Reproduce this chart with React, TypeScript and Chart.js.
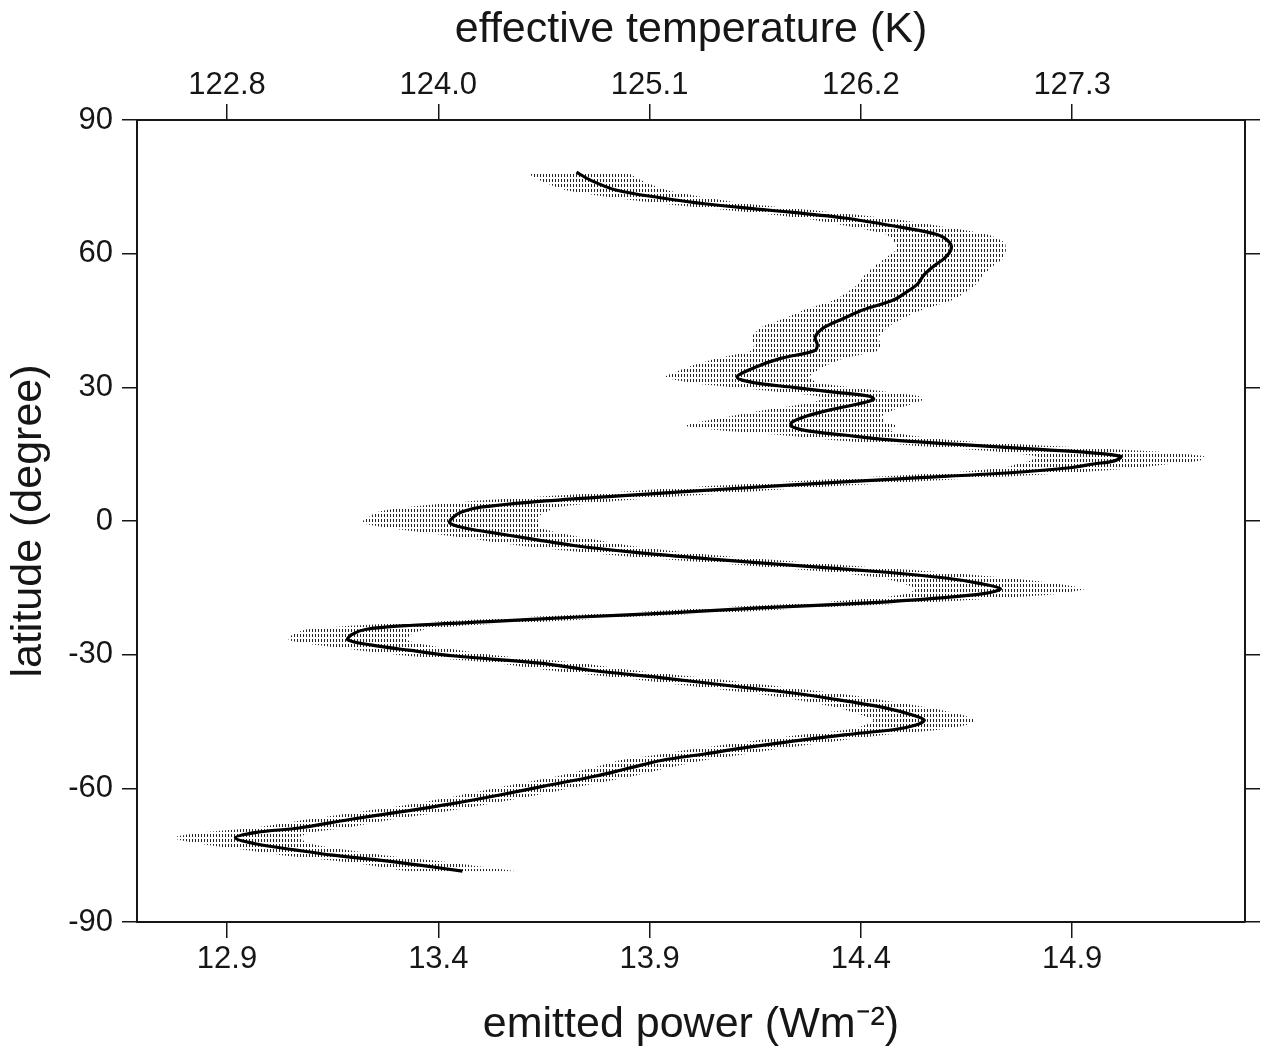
import React, { useEffect, useRef } from "react";
import { Chart, registerables } from "chart.js";

Chart.register(...registerables);

// latitude (degree) of each sample, north to south
const latitudes = [
  78.3, 76.5, 74.3, 72.5, 71.2, 69.8, 68.0, 66.0, 64.3, 62.5,
  60.8, 59.0, 57.3, 55.3, 53.3, 51.5, 49.6, 47.4, 45.5, 43.5,
  41.3, 39.5, 38.2, 36.5, 34.5, 32.3, 31.0, 30.0, 29.0, 28.0,
  27.3, 26.2, 25.0, 23.5, 22.2, 21.3, 20.3, 19.3, 18.2, 17.2,
  16.3, 15.5, 14.5, 13.5, 12.8, 12.0, 11.0, 9.5, 8.0, 6.8,
  5.6, 4.4, 3.1, 2.0, 0.8, -0.4, -1.5, -2.5, -4.0, -5.5,
  -7.0, -8.5, -10.0, -11.5, -12.8, -14.0, -15.2, -16.3, -17.3, -18.3,
  -19.5, -20.6, -21.6, -22.6, -23.4, -24.3, -25.5, -26.7, -27.8, -29.0,
  -30.3, -31.9, -33.5, -35.2, -37.2, -39.0, -40.5, -42.0, -43.5, -44.7,
  -45.8, -46.8, -48.0, -49.3, -50.8, -52.3, -53.7, -55.5, -57.3, -59.5,
  -61.5, -63.5, -65.3, -67.0, -68.9, -69.9, -71.1, -72.5, -73.8, -75.0,
  -76.1, -77.3, -78.6,
];

// emitted power (W m^-2)
const power = [
  13.727, 13.76, 13.82, 13.93, 14.03, 14.18, 14.36, 14.49, 14.58, 14.61,
  14.613, 14.598, 14.574, 14.55, 14.535, 14.51, 14.477, 14.406, 14.36, 14.314,
  14.292, 14.297, 14.29, 14.21, 14.15, 14.107, 14.15, 14.24, 14.33, 14.42,
  14.43, 14.39, 14.33, 14.27, 14.237, 14.235, 14.27, 14.36, 14.47, 14.63,
  14.78, 14.92, 15.015, 15.0, 14.95, 14.9, 14.78, 14.5, 14.22, 14.02,
  13.82, 13.64, 13.5, 13.455, 13.435, 13.427, 13.46, 13.52, 13.62, 13.72,
  13.86, 14.04, 14.25, 14.46, 14.6, 14.68, 14.73, 14.69, 14.58, 14.43,
  14.16, 13.95, 13.72, 13.52, 13.34, 13.23, 13.195, 13.186, 13.24, 13.33,
  13.44, 13.64, 13.76, 13.93, 14.11, 14.27, 14.37, 14.46, 14.52, 14.55,
  14.53, 14.48, 14.36, 14.25, 14.13, 14.03, 13.93, 13.85, 13.77, 13.65,
  13.545, 13.43, 13.31, 13.19, 13.07, 12.97, 12.92, 12.97, 13.06, 13.15,
  13.26, 13.36, 13.457,
];

// half-width of the shaded uncertainty band (W m^-2)
const powerErr = [
  0.12, 0.12, 0.12, 0.11, 0.10, 0.10, 0.10, 0.11, 0.12, 0.13,
  0.13, 0.14, 0.14, 0.14, 0.14, 0.14, 0.14, 0.14, 0.14, 0.15,
  0.15, 0.15, 0.15, 0.15, 0.16, 0.17, 0.15, 0.14, 0.13, 0.12,
  0.12, 0.13, 0.15, 0.18, 0.22, 0.25, 0.20, 0.15, 0.14, 0.15,
  0.17, 0.19, 0.20, 0.20, 0.18, 0.16, 0.15, 0.15, 0.15, 0.15,
  0.16, 0.17, 0.18, 0.20, 0.20, 0.21, 0.18, 0.16, 0.14, 0.13,
  0.12, 0.12, 0.12, 0.13, 0.15, 0.18, 0.20, 0.18, 0.15, 0.13,
  0.12, 0.12, 0.12, 0.13, 0.13, 0.14, 0.14, 0.14, 0.13, 0.12,
  0.11, 0.10, 0.10, 0.10, 0.10, 0.10, 0.10, 0.11, 0.12, 0.12,
  0.12, 0.11, 0.10, 0.10, 0.10, 0.10, 0.10, 0.09, 0.09, 0.09,
  0.09, 0.09, 0.10, 0.10, 0.11, 0.13, 0.15, 0.13, 0.12, 0.12,
  0.12, 0.12, 0.13,
];

const powerTicks = [12.9, 13.4, 13.9, 14.4, 14.9];
const powerTickLabels = ["12.9", "13.4", "13.9", "14.4", "14.9"];
const temperatureTickLabels = ["122.8", "124.0", "125.1", "126.2", "127.3"];
const latitudeTicks = [-90, -60, -30, 0, 30, 60, 90];

const POWER_MIN = 12.687;
const POWER_MAX = 15.309;

const FONT = "'Liberation Sans', Arial, Helvetica, sans-serif";
const INK = "#161616";

export default function App() {
  const canvasRef = useRef<HTMLCanvasElement | null>(null);

  useEffect(() => {
    const canvas = canvasRef.current;
    if (!canvas) return;
    const ctx = canvas.getContext("2d");
    if (!ctx) return;

    // stippled texture for the uncertainty band
    const pc = document.createElement("canvas");
    pc.width = 3;
    pc.height = 5;
    const pctx = pc.getContext("2d")!;
    pctx.fillStyle = "rgba(10,10,10,0.9)";
    pctx.fillRect(1, 1, 1, 3);
    const pattern = ctx.createPattern(pc, "repeat")!;

    const mainData = latitudes.map((lat, i) => ({ x: power[i], y: lat }));
    const leftData = latitudes.map((lat, i) => ({ x: power[i] - powerErr[i], y: lat }));
    const rightData = latitudes.map((lat, i) => ({ x: power[i] + powerErr[i], y: lat }));

    const tickFont = { family: FONT, size: 31, lineHeight: 1 };
    const titleFont = { family: FONT, size: 43, lineHeight: 1 };
    const grid = {
      display: true,
      drawOnChartArea: false,
      drawTicks: true,
      tickLength: 16,
      color: INK,
      lineWidth: 1.5,
    };
    const border = { display: true, color: INK, width: 2 };

    const chart = new Chart(ctx, {
      type: "line",
      data: {
        datasets: [
          {
            label: "emitted power",
            data: mainData,
            borderColor: "#000",
            borderWidth: 3.2,
            pointRadius: 0,
            tension: 0.35,
            fill: false,
            xAxisID: "x",
            yAxisID: "y",
          },
          {
            label: "band low",
            data: leftData,
            borderColor: "rgba(0,0,0,0)",
            borderWidth: 0,
            pointRadius: 0,
            tension: 0.2,
            backgroundColor: pattern as any,
            fill: "+1",
            xAxisID: "x",
            yAxisID: "y",
          },
          {
            label: "band high",
            data: rightData,
            borderColor: "rgba(0,0,0,0)",
            borderWidth: 0,
            pointRadius: 0,
            tension: 0.2,
            fill: false,
            xAxisID: "x",
            yAxisID: "y",
          },
        ],
      },
      options: {
        indexAxis: "y",
        responsive: false,
        animation: false,
        layout: { padding: 0 },
        plugins: {
          legend: { display: false },
          tooltip: { enabled: false },
        },
        scales: {
          x: {
            type: "linear",
            position: "bottom",
            min: POWER_MIN,
            max: POWER_MAX,
            afterBuildTicks: (s: any) => {
              s.ticks = powerTicks.map((v) => ({ value: v }));
            },
            afterFit: (s: any) => {
              s.height = 129;
            },
            ticks: {
              autoSkip: false,
              maxRotation: 0,
              padding: 6,
              color: INK,
              font: tickFont,
              callback: (_v: any, i: number) => powerTickLabels[i],
            },
            grid,
            border,
            title: {
              display: true,
              text: "emitted power (Wm\u207B\u00B2)",
              color: INK,
              font: titleFont,
              padding: { top: 0, bottom: 4 },
            },
          },
          x2: {
            type: "linear",
            position: "top",
            min: POWER_MIN,
            max: POWER_MAX,
            afterBuildTicks: (s: any) => {
              s.ticks = powerTicks.map((v) => ({ value: v }));
            },
            afterFit: (s: any) => {
              s.height = 112;
            },
            ticks: {
              autoSkip: false,
              maxRotation: 0,
              padding: 3,
              color: INK,
              font: tickFont,
              callback: (_v: any, i: number) => temperatureTickLabels[i],
            },
            grid,
            border,
            title: {
              display: true,
              text: "effective temperature (K)",
              color: INK,
              font: titleFont,
              padding: { top: 1, bottom: 0 },
            },
          },
          y: {
            type: "linear",
            position: "left",
            min: -90,
            max: 90,
            afterBuildTicks: (s: any) => {
              s.ticks = latitudeTicks.map((v) => ({ value: v }));
            },
            afterFit: (s: any) => {
              s.width = 129;
            },
            ticks: {
              autoSkip: false,
              padding: 9,
              color: INK,
              font: tickFont,
              callback: (v: any) => String(v),
            },
            grid: { ...grid, tickLength: 15 },
            border,
            title: {
              display: true,
              text: "latitude (degree)",
              color: INK,
              font: titleFont,
              padding: { top: 0, bottom: 0 },
            },
          },
          y2: {
            type: "linear",
            position: "right",
            min: -90,
            max: 90,
            afterBuildTicks: (s: any) => {
              s.ticks = latitudeTicks.map((v) => ({ value: v }));
            },
            afterFit: (s: any) => {
              s.width = 17;
            },
            ticks: { display: false },
            grid: { ...grid, tickLength: 15 },
            border,
          },
        },
      } as any,
    });

    return () => {
      chart.destroy();
    };
  }, []);

  return (
    <div style={{ width: 1254, height: 1043 }}>
      <canvas
        ref={canvasRef}
        width={1254}
        height={1043}
        style={{ display: "block", width: 1254, height: 1043 }}
      />
    </div>
  );
}
